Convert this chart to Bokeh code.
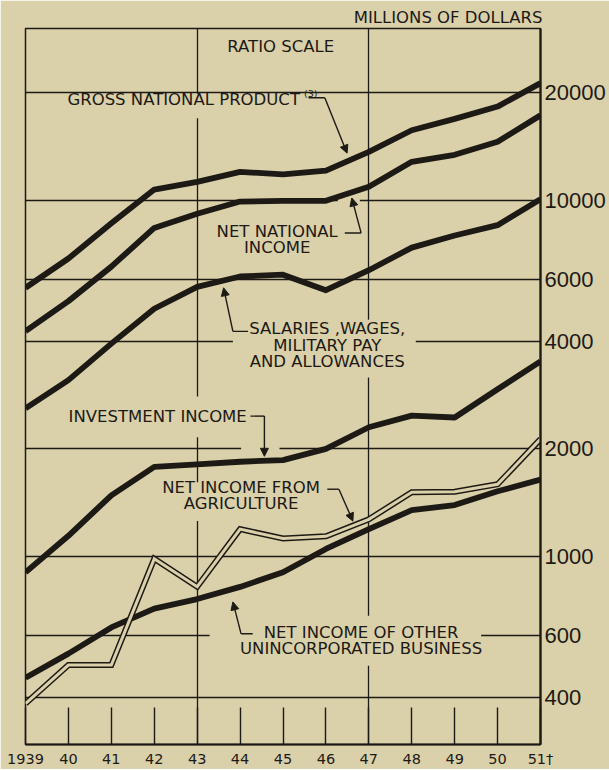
from bokeh.plotting import figure
from bokeh.models import Range1d, FixedTicker, Label, Arrow, NormalHead, PrintfTickFormatter
from bokeh.embed import file_html
from bokeh.resources import INLINE

# ---------------- data (millions of dollars, ratio scale) ----------------
years = [1939, 1940, 1941, 1942, 1943, 1944, 1945, 1946, 1947, 1948, 1949, 1950, 1951]
year_labels = ["1939", "40", "41", "42", "43", "44", "45", "46", "47", "48", "49", "50", "51\u2020"]

gross_national_product = [5670, 6850, 8600, 10700, 11250, 12000, 11800, 12100, 13650, 15700, 16900, 18300, 21300]
net_national_income = [4280, 5200, 6500, 8350, 9150, 9900, 9950, 9950, 10900, 12800, 13400, 14570, 17300]
salaries_wages = [2600, 3120, 3950, 4950, 5700, 6100, 6170, 5580, 6350, 7350, 7950, 8500, 10050]
investment_income = [900, 1140, 1480, 1780, 1810, 1840, 1860, 2000, 2300, 2480, 2450, 2940, 3520]
agriculture = [385, 494, 494, 982, 820, 1190, 1120, 1136, 1268, 1510, 1515, 1590, 2130]
other_business = [455, 532, 630, 712, 757, 819, 900, 1047, 1190, 1345, 1390, 1520, 1640]

value_ticks = [400, 600, 1000, 2000, 4000, 6000, 10000, 20000]
value_labels = ["400", "600", "1000", "2000", "4000", "6000", "10000", "20000"]
year_grid = [1943, 1947]

BG = "#dad0aa"
INK = "#1d1a16"
FONT = "DejaVu Sans"

# frame of the reference picture, in pixels
FX0, FX1, FY0, FY1 = 25, 540, 28, 746
W, H = 609, 769


# helpers: place annotations by reference-picture pixel position
def yr(px):
    return 1939 + (px - FX0) * 12.0 / (FX1 - FX0)


def val(py):
    return 10 ** (4 + (200.0 - py) / 357.0)


p = figure(width=W, height=H, y_axis_type="log", y_axis_location="right",
           x_range=Range1d(1939, 1951), y_range=Range1d(val(FY1), val(FY0)),
           output_backend="svg", toolbar_location=None,
           min_border_left=FX0, min_border_right=W - FX1, min_border_top=FY0, min_border_bottom=H - FY1,
           background_fill_color=BG, border_fill_color=BG,
           outline_line_color=INK, outline_line_width=1.5)

# unit caption above the value axis
p.title.text = "MILLIONS OF DOLLARS"
p.title.align = "right"
p.title.text_font = FONT
p.title.text_font_size = "16.5px"
p.title.text_font_style = "normal"
p.title.text_color = INK
p.title.standoff = 4
p.title.offset = -2

# x axis (years) with inner ticks
p.xaxis.ticker = FixedTicker(ticks=years)
p.xaxis.major_label_overrides = {y: l for y, l in zip(years, year_labels)}
p.xaxis.major_tick_in = 37
p.xaxis.major_tick_out = 0
p.xaxis.major_tick_line_color = INK
p.xaxis.major_tick_line_width = 1.4
p.xaxis.axis_line_color = INK
p.xaxis.axis_line_width = 2
p.xaxis.minor_tick_line_color = None
p.xaxis.major_label_standoff = 6
p.xaxis.major_label_text_font = FONT
p.xaxis.major_label_text_font_size = "14.5px"
p.xaxis.major_label_text_color = INK

# right value axis
p.yaxis.ticker = FixedTicker(ticks=value_ticks)
p.yaxis.formatter = PrintfTickFormatter(format="%d")
p.yaxis.major_label_overrides = {v: s for v, s in zip(value_ticks, value_labels)}
p.yaxis.major_tick_in = 0
p.yaxis.major_tick_out = 0
p.yaxis.minor_tick_line_color = None
p.yaxis.axis_line_color = INK
p.yaxis.axis_line_width = 2.2
p.yaxis.major_label_standoff = 4
p.yaxis.major_label_text_font = "Liberation Sans"
p.yaxis.major_label_text_font_size = "22px"
p.yaxis.major_label_text_color = INK

# grids
p.xgrid.ticker = FixedTicker(ticks=year_grid)
p.ygrid.ticker = FixedTicker(ticks=value_ticks)
for g in (p.xgrid, p.ygrid):
    g.grid_line_color = INK
    g.grid_line_width = 1.3
    g.grid_line_alpha = 1.0

# gaps in the grid around labels and arrows (background-coloured masks)
mask_h = [(240.6, 279.0, 2000), (337.3, 359.4, 10000), (232.4, 415.3, 4000), (209.1, 480.6, 600)]
mask_v = [(1943, 93.5, 118), (1943, 397, 438), (1943, 483, 522), (1947, 320, 378), (1947, 617, 667)]
p.segment(x0=[yr(a) for a, b, v in mask_h], x1=[yr(b) for a, b, v in mask_h],
          y0=[v for a, b, v in mask_h], y1=[v for a, b, v in mask_h],
          line_color=BG, line_width=4)
p.segment(x0=[x for x, a, b in mask_v], x1=[x for x, a, b in mask_v],
          y0=[val(a) for x, a, b in mask_v], y1=[val(b) for x, a, b in mask_v],
          line_color=BG, line_width=4)

# series
for s in (gross_national_product, net_national_income, salaries_wages, investment_income, other_business):
    p.line(years, s, line_color=INK, line_width=5.8, line_join="round", line_cap="butt")
p.line(years, agriculture, line_color=INK, line_width=6, line_join="miter")
p.line(years, agriculture, line_color=BG, line_width=3, line_join="miter")


# labels
def add_label(text, px, py, align="left", size="16.5px"):
    p.add_layout(Label(x=yr(px), y=val(py), text=text, text_font=FONT, text_font_size=size,
                       text_color=INK, text_align=align, text_baseline="middle",
                       text_line_height=0.85))


add_label("RATIO SCALE", 280.2, 46, "center")
add_label("GROSS NATIONAL PRODUCT", 66.9, 99.5)
add_label("(3)", 303.5, 93, "left", "9.5px")
add_label("NET NATIONAL\nINCOME", 276.7, 240, "center")
add_label("SALARIES ,WAGES,\nMILITARY PAY\nAND ALLOWANCES", 326.8, 345.5, "center")
add_label("INVESTMENT INCOME", 68.1, 416.7)
add_label("NET INCOME FROM\nAGRICULTURE", 240.6, 496.5, "center")
add_label("NET INCOME OF OTHER\nUNINCORPORATED BUSINESS", 360.6, 642, "center")

# leader lines and arrows (pixel positions in the reference picture)
leaders = [
    ((308.0, 97.5), (324.3, 97.5), (346.6, 153)),
    ((344.3, 233), (360.6, 233), (351.3, 198)),
    ((247.6, 331.7), (232.4, 331.7), (223.1, 288)),
    ((249.9, 416.7), (263.9, 416.7), (263.9, 457)),
    ((326.8, 490), (338.4, 490), (352.4, 522)),
    ((252.2, 635), (240.6, 635), (232.4, 603)),
]
p.multi_line(xs=[[yr(a[0]), yr(b[0])] for a, b, c in leaders],
             ys=[[val(a[1]), val(b[1])] for a, b, c in leaders],
             line_color=INK, line_width=1.4)
for a, b, c in leaders:
    p.add_layout(Arrow(end=NormalHead(size=8, fill_color=INK, line_color=INK, line_width=1),
                       x_start=yr(b[0]), y_start=val(b[1]), x_end=yr(c[0]), y_end=val(c[1]),
                       line_color=INK, line_width=1.4))

html = file_html(p, INLINE)
html = html.replace("<body>", '<body style="background-color:%s;">' % BG, 1)
open("out.html", "w").write(html)
